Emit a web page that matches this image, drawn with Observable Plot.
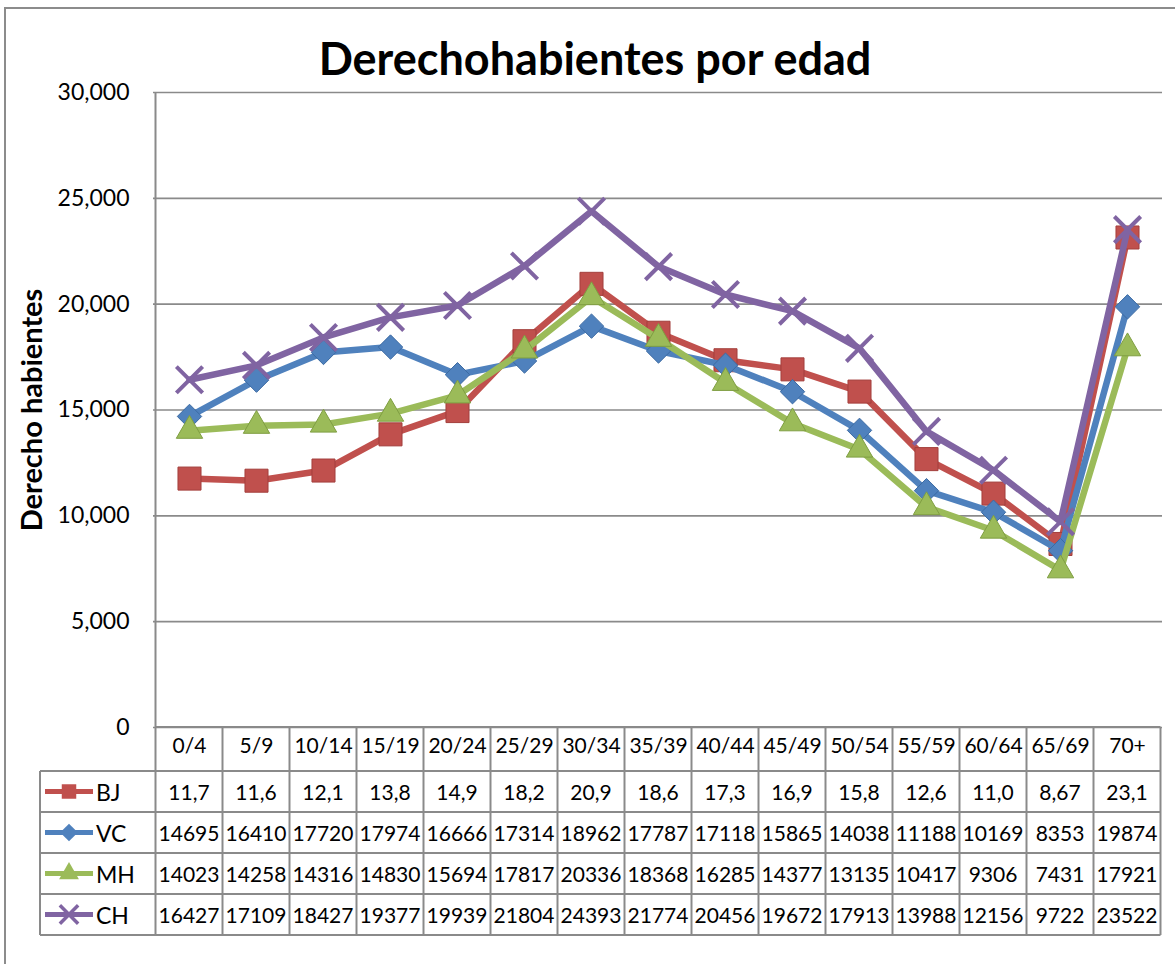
<!DOCTYPE html>
<html><head><meta charset="utf-8">
<script src="https://cdn.jsdelivr.net/npm/d3@7"></script>
<script src="https://cdn.jsdelivr.net/npm/@observablehq/plot@0.6"></script>
<style>
body{margin:0;background:#fff;}
#wrap{position:relative;width:1175px;height:964px;overflow:hidden;}
</style></head><body><div id="wrap"></div>
<script>
const categories = ["0/4","5/9","10/14","15/19","20/24","25/29","30/34","35/39","40/44","45/49","50/54","55/59","60/64","65/69","70+"];
const bj = [11760, 11660, 12140, 13850, 14950, 18250, 20960, 18650, 17350, 16920, 15870, 12680, 11050, 8670, 23150];
const bjLabels = ["11,7","11,6","12,1","13,8","14,9","18,2","20,9","18,6","17,3","16,9","15,8","12,6","11,0","8,67","23,1"];
const vc = [14695, 16410, 17720, 17974, 16666, 17314, 18962, 17787, 17118, 15865, 14038, 11188, 10169, 8353, 19874];
const mh = [14023, 14258, 14316, 14830, 15694, 17817, 20336, 18368, 16285, 14377, 13135, 10417, 9306, 7431, 17921];
const ch = [16427, 17109, 18427, 19377, 19939, 21804, 24393, 21774, 20456, 19672, 17913, 13988, 12156, 9722, 23522];
const seriesNames = ["BJ", "VC", "MH", "CH"];
const yTicks = [0, 5000, 10000, 15000, 20000, 25000, 30000];
const title = "Derechohabientes por edad";
const yLabel = "Derecho habientes";

const series = [
  {name: seriesNames[0], values: bj, labels: bjLabels, color: "#C0504D", edge: "#A33F3C", symbol: "square", r: 13, filled: true},
  {name: seriesNames[1], values: vc, labels: vc.map(String), color: "#4F81BD", edge: "#3C6BA3", symbol: "diamond2", r: 11, filled: true},
  {name: seriesNames[2], values: mh, labels: mh.map(String), color: "#9BBB59", edge: "#7F9E42", symbol: "triangle", r: 9.8, filled: true},
  {name: seriesNames[3], values: ch, labels: ch.map(String), color: "#8064A2", edge: "#8064A2", symbol: "times", r: 12, filled: false}
];

const marks = [
  Plot.gridY(yTicks, {stroke: "#8a8a8a", strokeOpacity: 1, strokeWidth: 1.6}),
  Plot.axisY({ticks: yTicks, tickSize: 0, tickPadding: 24, tickFormat: d3.format(","), fontSize: 23, label: null}),
  Plot.axisX({tickSize: 0, tickPadding: 11, fontSize: 21, label: null}),
  Plot.text([title], {frameAnchor: "top", dx: -63, dy: -32, fontSize: 45, fontWeight: "bold", lineAnchor: "middle", text: d => d}),
  Plot.text([yLabel], {frameAnchor: "left", dx: -121, rotate: -90, textAnchor: "middle", fontSize: 29, fontWeight: "bold", text: d => d})
];
for (const s of series) {
  const data = s.values.map((v, i) => ({cat: categories[i], value: v}));
  marks.push(Plot.line(data, {x: "cat", y: "value", stroke: s.color, strokeWidth: 6.5, strokeLinejoin: "round"}));
  if (s.filled) {
    marks.push(Plot.dot(data, {x: "cat", y: "value", symbol: s.symbol, r: s.r, fill: s.color, stroke: s.edge, strokeWidth: 1}));
  } else {
    marks.push(Plot.dot(data, {x: "cat", y: "value", symbol: s.symbol, r: s.r, stroke: s.color, strokeWidth: 4}));
  }
}

const chart = Plot.plot({
  width: 1175, height: 964,
  marginLeft: 153, marginRight: 13, marginTop: 92, marginBottom: 237,
  style: {fontFamily: "Lato", background: "white", color: "black"},
  x: {type: "point", domain: categories, padding: 0.5},
  y: {domain: [0, 30000]},
  symbol: {type: "identity"},
  marks
});
document.getElementById("wrap").appendChild(chart);

// Table drawn from the plot's own scales
const svg = d3.select(chart);
const x = chart.scale("x");
const y = chart.scale("y");
const step = x.apply(categories[1]) - x.apply(categories[0]);
const left = x.apply(categories[0]) - step / 2;
const right = x.apply(categories[categories.length - 1]) + step / 2;
const yTop = y.apply(30000);
const y0 = y.apply(0);
const headerH = 44, rowH = 41, legendLeft = 40;
const tableBottom = y0 + headerH + rowH * series.length;
const lineColor = "#8a8a8a";

svg.insert("rect", ":first-child").attr("x", 5).attr("y", 8).attr("width", 1200).attr("height", 1000)
  .attr("fill", "white").attr("stroke", "#8c8c8c").attr("stroke-width", 2);

const g = svg.append("g").attr("stroke", lineColor).attr("stroke-width", 2);
g.append("line").attr("x1", left).attr("x2", left).attr("y1", yTop).attr("y2", tableBottom);
categories.forEach(c => {
  const xr = x.apply(c) + step / 2;
  g.append("line").attr("x1", xr).attr("x2", xr).attr("y1", y0).attr("y2", tableBottom);
});
g.append("line").attr("x1", left).attr("x2", right).attr("y1", y0).attr("y2", y0);
for (let i = 0; i <= series.length; i++) {
  const yy = y0 + headerH + rowH * i;
  g.append("line").attr("x1", legendLeft).attr("x2", right).attr("y1", yy).attr("y2", yy);
}
g.append("line").attr("x1", legendLeft).attr("x2", legendLeft).attr("y1", y0 + headerH).attr("y2", tableBottom);

const t = svg.append("g").attr("font-family", "Lato").attr("font-size", 21).attr("fill", "black");
const symMap = {square: d3.symbolSquare, diamond2: d3.symbolDiamond2, triangle: d3.symbolTriangle, times: d3.symbolTimes};
const legendSize = {square: 210, diamond2: 200, triangle: 170, times: 220};
series.forEach((s, i) => {
  const cy = y0 + headerH + rowH * i + rowH / 2;
  s.labels.forEach((lab, j) => {
    t.append("text").attr("x", x.apply(categories[j])).attr("y", cy).attr("text-anchor", "middle")
      .attr("dominant-baseline", "central").text(lab);
  });
  svg.append("line").attr("x1", 45).attr("x2", 93).attr("y1", cy).attr("y2", cy)
    .attr("stroke", s.color).attr("stroke-width", 5);
  const p = svg.append("path").attr("transform", `translate(69,${cy})`)
    .attr("d", d3.symbol(symMap[s.symbol], legendSize[s.symbol])());
  if (s.filled) p.attr("fill", s.color); else p.attr("fill", "none").attr("stroke", s.color).attr("stroke-width", 3.5);
  svg.append("text").attr("x", 96).attr("y", cy).attr("text-anchor", "start").attr("dominant-baseline", "central")
    .attr("font-family", "Lato").attr("font-size", 23).text(s.name);
});
</script>
</body></html>
